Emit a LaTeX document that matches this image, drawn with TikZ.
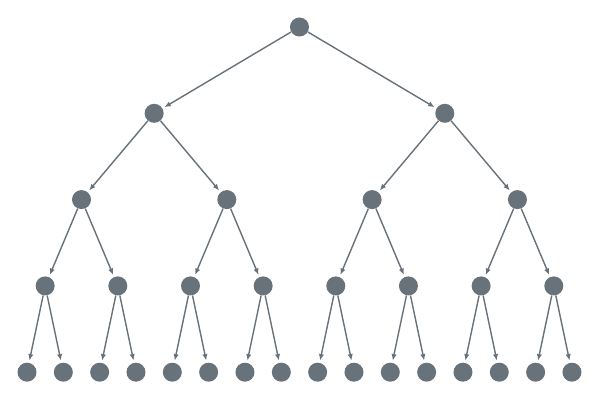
\documentclass[tikz,border=0pt]{standalone}
\usepackage{tikz}
\usetikzlibrary{arrows.meta}
\definecolor{treegray}{RGB}{104,114,122}

\begin{document}
\begin{tikzpicture}[x=0.025cm,y=-0.025cm,
  vert/.style={circle,fill=treegray,inner sep=0pt,minimum size=0.475cm},
  edge/.style={draw=treegray,line width=1pt,-{Latex[length=4.6pt,width=3.8pt]},shorten >=1.5pt}]

\useasboundingbox (0,0) rectangle (600,400);

\foreach \l in {0,...,4} {
  \pgfmathtruncatemacro\n{2^\l-1}
  \foreach \i in {0,...,\n} {
    \node[vert] (v-\l-\i) at ({27+36.33*(2^(4-\l)*(\i+0.5)-0.5)},{27+86.3*\l}) {};
  }
}

\foreach \l in {1,...,4} {
  \pgfmathtruncatemacro\p{\l-1}
  \pgfmathtruncatemacro\n{2^\l-1}
  \foreach \i in {0,...,\n} {
    \pgfmathtruncatemacro\j{floor(\i/2)}
    \draw[edge] (v-\p-\j) -- (v-\l-\i);
  }
}

\end{tikzpicture}
\end{document}
